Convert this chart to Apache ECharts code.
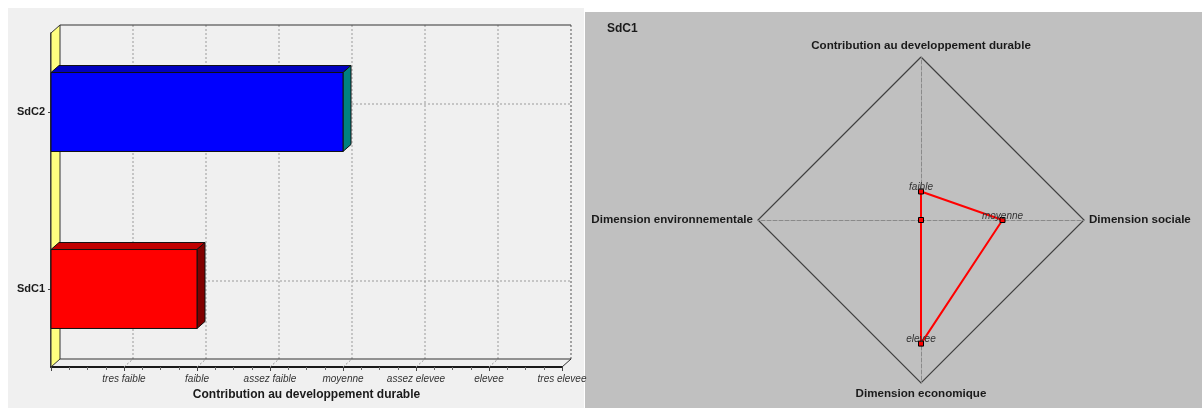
<!DOCTYPE html>
<html>
<head>
<meta charset="utf-8">
<script src="https://cdn.jsdelivr.net/npm/echarts@6/dist/echarts.min.js"></script>
<style>
html,body{margin:0;padding:0;background:#fff;}
#c{width:1202px;height:408px;}
</style>
</head>
<body>
<div id="c"></div>
<script>
// ---- data ----
const levels = ['tres faible', 'faible', 'assez faible', 'moyenne', 'assez elevee', 'elevee', 'tres elevee'];
const scenarios = ['SdC1', 'SdC2'];
const scores = [2, 4];
const barAxisName = 'Contribution au developpement durable';
const radarTitle = 'SdC1';
const radarDims = ['Contribution au developpement durable', 'Dimension environnementale', 'Dimension economique', 'Dimension sociale'];
const radarValues = [2.05, 1, 5.55, 4];
const radarPointLabels = ['faible', '', 'elevee', 'moyenne'];

// ---- styles ----
const FONT = '"Liberation Sans", Arial, sans-serif';
const faces = [
  { front: '#ff0000', top: '#c00000', side: '#800000' },
  { front: '#0000ff', top: '#0000c0', side: '#008080' }
];
const WALL = [9, -8];
const DEPTH = [8, -7];

const chart = echarts.init(document.getElementById('c'), null, { renderer: 'canvas' });

function add(p, d) { return [p[0] + d[0], p[1] + d[1]]; }

const option = {
  animation: false,
  backgroundColor: '#ffffff',
  textStyle: { fontFamily: FONT },
  graphic: [
    { type: 'rect', z: -100, shape: { x: 8, y: 8, width: 576, height: 400 }, style: { fill: '#f0f0f0' } },
    { type: 'rect', z: -100, shape: { x: 585, y: 12, width: 617, height: 396 }, style: { fill: '#c0c0c0' } }
  ],
  title: {
    text: radarTitle, left: 602, top: 18,
    textStyle: { fontFamily: FONT, fontSize: 12, fontWeight: 'bold', color: '#1a1a1a' }
  },
  grid: [
    { left: 51, top: 33, width: 511, height: 334 },
    { left: 51, top: 23.5, width: 511, height: 354 }
  ],
  xAxis: [
    {
      gridIndex: 0, type: 'value', min: 0, max: 7, interval: 1,
      axisLine: { show: true, lineStyle: { color: '#1a1a1a', width: 2 } },
      axisTick: { show: true, length: 4, lineStyle: { color: '#444' } },
      minorTick: { show: true, splitNumber: 4, length: 3, lineStyle: { color: '#666' } },
      splitLine: { show: false },
      axisLabel: {
        margin: 7, fontSize: 10, fontStyle: 'italic', color: '#333', fontFamily: FONT,
        formatter: v => levels[v - 1] || ''
      },
      name: barAxisName, nameLocation: 'middle', nameGap: 19,
      nameTextStyle: { fontSize: 12, fontWeight: 'bold', color: '#1a1a1a', fontFamily: FONT }
    },
    { gridIndex: 1, type: 'value', min: 0, max: 7, show: false }
  ],
  yAxis: [
    {
      gridIndex: 0, type: 'value', min: 0, max: 1,
      axisLine: { show: true, lineStyle: { color: '#1a1a1a', width: 1.5 } },
      axisTick: { show: false }, axisLabel: { show: false }, splitLine: { show: false }
    },
    {
      gridIndex: 1, type: 'category', data: scenarios,
      axisLine: { show: false },
      axisTick: { show: true, alignWithLabel: true, length: 3, lineStyle: { color: '#444' } },
      axisLabel: { margin: 6, fontSize: 11, fontWeight: 'bold', color: '#1a1a1a', fontFamily: FONT },
      splitLine: { show: false }
    }
  ],
  radar: {
    center: [921, 220], radius: 163, startAngle: 90,
    shape: 'polygon', splitNumber: 1,
    indicator: radarDims.map(n => ({ name: n, min: 1, max: 7 })),
    nameGap: 5,
    axisName: { color: '#1a1a1a', fontWeight: 'bold', fontSize: 11.6, fontFamily: FONT },
    splitLine: { lineStyle: { color: '#404040', width: 1.2 } },
    splitArea: { show: false },
    axisLine: { lineStyle: { color: '#8a8a8a', type: 'dashed' } },
    axisTick: { show: false }, axisLabel: { show: false }
  },
  series: [
    {
      type: 'custom', name: 'frame', xAxisIndex: 0, yAxisIndex: 0, z: 1,
      data: [[0, 0]],
      renderItem: function (params, api) {
        const children = [];
        const f00 = api.coord([0, 0]), f01 = api.coord([0, 1]);
        const b00 = add(f00, WALL), b01 = add(f01, WALL);
        const b70 = add(api.coord([7, 0]), WALL), b71 = add(api.coord([7, 1]), WALL);
        children.push({ type: 'polygon', shape: { points: [f01, b01, b00, f00] },
          style: { fill: '#ffff80', stroke: '#333', lineWidth: 1 } });
        for (let k = 1; k <= 6; k++) {
          const fk = api.coord([k, 0]);
          const bk0 = add(fk, WALL), bk1 = add(api.coord([k, 1]), WALL);
          children.push({ type: 'line', shape: { x1: bk0[0], y1: bk0[1], x2: bk1[0], y2: bk1[1] },
            style: { stroke: '#9a9a9a', lineWidth: 1, lineDash: [2, 2] } });
          children.push({ type: 'line', shape: { x1: fk[0], y1: fk[1], x2: bk0[0], y2: bk0[1] },
            style: { stroke: '#9a9a9a', lineWidth: 1, lineDash: [2, 2] } });
        }
        children.push({ type: 'line', shape: { x1: b70[0], y1: b70[1], x2: b71[0], y2: b71[1] },
          style: { stroke: '#555', lineWidth: 1, lineDash: [2, 2] } });
        children.push({ type: 'line', shape: { x1: b01[0], y1: b01[1], x2: b71[0], y2: b71[1] },
          style: { stroke: '#333', lineWidth: 1 } });
        children.push({ type: 'line', shape: { x1: b00[0], y1: b00[1], x2: b70[0], y2: b70[1] },
          style: { stroke: '#333', lineWidth: 1 } });
        const f70 = api.coord([7, 0]);
        children.push({ type: 'line', shape: { x1: f70[0], y1: f70[1], x2: b70[0], y2: b70[1] },
          style: { stroke: '#333', lineWidth: 1 } });
        return { type: 'group', children: children };
      }
    },
    {
      type: 'custom', name: 'rows', xAxisIndex: 1, yAxisIndex: 1, z: 2,
      data: scenarios.map(s => [0, s]),
      renderItem: function (params, api) {
        const a = add(api.coord([0, api.value(1)]), WALL);
        const b = add(api.coord([7, api.value(1)]), WALL);
        return { type: 'line', shape: { x1: a[0], y1: a[1], x2: b[0], y2: b[1] },
          style: { stroke: '#9a9a9a', lineWidth: 1, lineDash: [2, 2] } };
      }
    },
    {
      type: 'custom', name: 'score', xAxisIndex: 1, yAxisIndex: 1, z: 3,
      data: scores.map((v, i) => [v, scenarios[i]]),
      encode: { x: 0, y: 1 },
      renderItem: function (params, api) {
        const cat = api.value(1);
        const c0 = api.coord([0, cat]);
        const c1 = api.coord([api.value(0), cat]);
        const h = api.size([0, 1])[1] * 0.446;
        const x0 = c0[0], x1 = c1[0], y0 = c1[1] - h / 2, y1 = c1[1] + h / 2;
        const col = faces[params.dataIndex % faces.length];
        return { type: 'group', children: [
          { type: 'polygon', shape: { points: [[x0, y0], add([x0, y0], DEPTH), add([x1, y0], DEPTH), [x1, y0]] },
            style: { fill: col.top, stroke: '#111', lineWidth: 1 } },
          { type: 'polygon', shape: { points: [[x1, y0], add([x1, y0], DEPTH), add([x1, y1], DEPTH), [x1, y1]] },
            style: { fill: col.side, stroke: '#111', lineWidth: 1 } },
          { type: 'rect', shape: { x: x0, y: y0, width: x1 - x0, height: y1 - y0 },
            style: { fill: col.front, stroke: '#111', lineWidth: 1 } }
        ] };
      }
    },
    {
      type: 'radar', z: 3,
      symbol: 'rect', symbolSize: 5,
      lineStyle: { color: '#ff0000', width: 2 },
      itemStyle: { color: '#ff0000', borderColor: '#000', borderWidth: 1 },
      label: {
        show: true, position: 'top', distance: -4,
        fontSize: 10, fontStyle: 'italic', color: '#333', fontFamily: FONT,
        formatter: function (p) {
          if (p.dimensionIndex != null) return radarPointLabels[p.dimensionIndex];
          const i = radarValues.indexOf(p.value);
          return i >= 0 ? radarPointLabels[i] : '';
        }
      },
      data: [{ value: radarValues, name: radarTitle }]
    }
  ]
};
chart.setOption(option);
</script>
</body>
</html>
